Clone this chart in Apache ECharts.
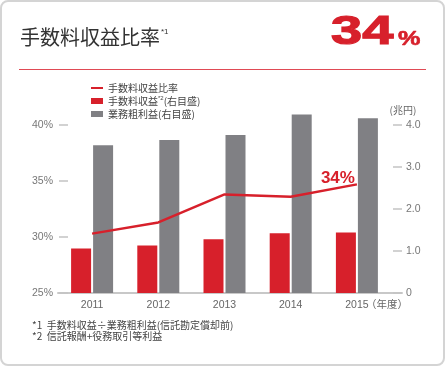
<!DOCTYPE html>
<html>
<head>
<meta charset="utf-8">
<script src="https://cdn.jsdelivr.net/npm/echarts@6/dist/echarts.min.js"></script>
<style>
html,body{margin:0;padding:0;background:#fff;}
#wrap{position:relative;width:445px;height:366px;}
#frame{position:absolute;left:0;top:0;width:445px;height:366px;box-sizing:border-box;border:2px solid #d4d4d4;border-radius:8px;pointer-events:none;z-index:2;}
#chart{position:absolute;left:0;top:0;width:445px;height:366px;}
</style>
</head>
<body>
<div id="wrap"><div id="chart"></div><div id="frame"></div></div>
<script>
// ---- data ----
const years = ['2011', '2012', '2013', '2014', '2015'];
const feeRatio = [30.3, 31.3, 33.8, 33.6, 34.7];          // % (left axis)
const feeIncome = [1.06, 1.13, 1.28, 1.42, 1.44];         // 兆円 (right axis)
const grossProfit = [3.52, 3.64, 3.76, 4.25, 4.16];       // 兆円 (right axis)
const leftAxisRange = [25, 40, 5];
const rightAxisRange = [0, 4, 1];
const titleText = '手数料収益比率';
const headline = '34';
const endLabelText = '34%';
const notes = ['*1  手数料収益÷業務粗利益(信託勘定償却前)', '*2  信託報酬+役務取引等利益'];

const RED = '#d7202b';
const GRAY = '#808084';
const FONT = "'Liberation Sans', 'Noto Sans CJK JP', sans-serif";
const JFONT = "'Noto Sans CJK JP', sans-serif";

const chart = echarts.init(document.getElementById('chart'), null, {renderer: 'canvas'});

const legendLabels = {
  '手数料収益比率': '手数料収益比率',
  '手数料収益': '手数料収益{s|*2}(右目盛)',
  '業務粗利益': '業務粗利益(右目盛)'
};

chart.setOption({
  animation: false,
  backgroundColor: '#fff',
  textStyle: {fontFamily: FONT},
  title: [
    {
      text: titleText + '{s|*1}',
      left: 15, top: 22,
      textStyle: {
        fontFamily: JFONT, fontSize: 20, fontWeight: 'normal', color: '#333',
        rich: {s: {fontFamily: FONT, fontSize: 8, color: '#333', padding: [0, 0, 10, 1]}}
      }
    },
    {
      text: notes.join('\n'),
      left: 27, top: 314,
      textStyle: {fontFamily: JFONT, fontSize: 10, fontWeight: 'normal', color: '#444', lineHeight: 11.5}
    }
  ],
  graphic: [
    {type: 'line', shape: {x1: 19, y1: 69.5, x2: 426, y2: 69.5}, style: {stroke: '#e04a55', lineWidth: 1}},
    {type: 'text', x: 331, y: 33, scaleX: 1.4, originX: 0, originY: 0,
      style: {text: headline, fontFamily: "'Liberation Sans', sans-serif", fontSize: 40, fontWeight: 'bold',
        fill: RED, stroke: RED, lineWidth: 1.2, align: 'left', verticalAlign: 'middle'}},
    {type: 'text', x: 398, y: 39.5, scaleX: 1.2, originX: 0, originY: 0,
      style: {text: '%', fontFamily: "'Liberation Sans', sans-serif", fontSize: 21, fontWeight: 'bold',
        fill: RED, stroke: RED, lineWidth: 0.6, align: 'left', verticalAlign: 'middle'}}
  ],
  legend: {
    orient: 'vertical',
    left: 86, top: 77,
    itemWidth: 12, itemHeight: 6, itemGap: 1, symbolKeepAspect: true,
    data: [
      {name: '手数料収益比率', icon: 'path://M0,0 H12 V2 H0 Z'},
      {name: '手数料収益', icon: 'rect'},
      {name: '業務粗利益', icon: 'rect'}
    ],
    formatter: n => legendLabels[n],
    textStyle: {
      fontFamily: JFONT, fontSize: 10, color: '#444', lineHeight: 12,
      rich: {s: {fontFamily: FONT, fontSize: 6, color: '#444', padding: [0, 0, 5, 0]}}
    }
  },
  grid: [
    {left: 59, right: 55, top: 125, bottom: 73, containLabel: false, outerBoundsMode: 'none'},
    {left: 58, right: 43, top: 125, bottom: 73, containLabel: false, outerBoundsMode: 'none'}
  ],
  xAxis: [
    {
      type: 'category', gridIndex: 0, data: years,
      axisLine: {show: false}, axisTick: {show: false},
      axisLabel: {color: '#666', fontSize: 10.5, margin: 7},
      name: '（年度）', nameLocation: 'end', nameGap: -24, nameMoveOverlap: false,
      nameTextStyle: {fontFamily: JFONT, color: '#666', fontSize: 10.5, verticalAlign: 'top', align: 'left', padding: [6, 0, 0, 0]}
    },
    {
      type: 'value', gridIndex: 1, min: 0, max: 1,
      axisLine: {show: true, onZero: false, lineStyle: {color: '#c8c8c8', width: 2}},
      axisTick: {show: false}, axisLabel: {show: false}, splitLine: {show: false}
    }
  ],
  yAxis: [
    {
      type: 'value', gridIndex: 0, position: 'left',
      min: leftAxisRange[0], max: leftAxisRange[1], interval: leftAxisRange[2],
      axisLine: {show: false},
      axisTick: {show: true, inside: true, length: 9, lineStyle: {color: '#c4c4c4', width: 1.5}},
      axisLabel: {color: '#777', fontSize: 10.5, margin: 6, formatter: '{value}%'},
      splitLine: {show: false}
    },
    {
      type: 'value', gridIndex: 0, position: 'right', offset: 3,
      min: rightAxisRange[0], max: rightAxisRange[1], interval: rightAxisRange[2],
      axisLine: {show: false},
      axisTick: {show: true, inside: false, length: 9, lineStyle: {color: '#c4c4c4', width: 1.5}},
      axisLabel: {color: '#777', fontSize: 10.5, margin: 13, formatter: v => v === 0 ? '0' : v.toFixed(1)},
      splitLine: {show: false},
      name: '(兆円)', nameLocation: 'end', nameGap: 10, nameMoveOverlap: false,
      nameTextStyle: {fontFamily: JFONT, color: '#666', fontSize: 10, padding: [0, 0, 0, 20]}
    },
    {type: 'value', gridIndex: 1, show: false, min: 0, max: 1}
  ],
  series: [
    {
      name: '手数料収益', type: 'bar', xAxisIndex: 0, yAxisIndex: 1,
      data: feeIncome, barWidth: 20, barGap: '10%', clip: false,
      itemStyle: {color: RED}
    },
    {
      name: '業務粗利益', type: 'bar', xAxisIndex: 0, yAxisIndex: 1,
      data: grossProfit, barWidth: 20, barGap: '10%', clip: false,
      itemStyle: {color: GRAY}
    },
    {
      name: '手数料収益比率', type: 'line', xAxisIndex: 0, yAxisIndex: 0,
      data: feeRatio, symbol: 'none', z: 5, clip: false,
      lineStyle: {color: RED, width: 2.5}, itemStyle: {color: RED},
      endLabel: {
        show: true, formatter: endLabelText, color: RED, fontSize: 17, fontWeight: 'bold',
        fontFamily: "'Liberation Sans', sans-serif",
        align: 'right', verticalAlign: 'bottom', distance: 0, offset: [-2, 2]
      }
    }
  ]
});
</script>
</body>
</html>
